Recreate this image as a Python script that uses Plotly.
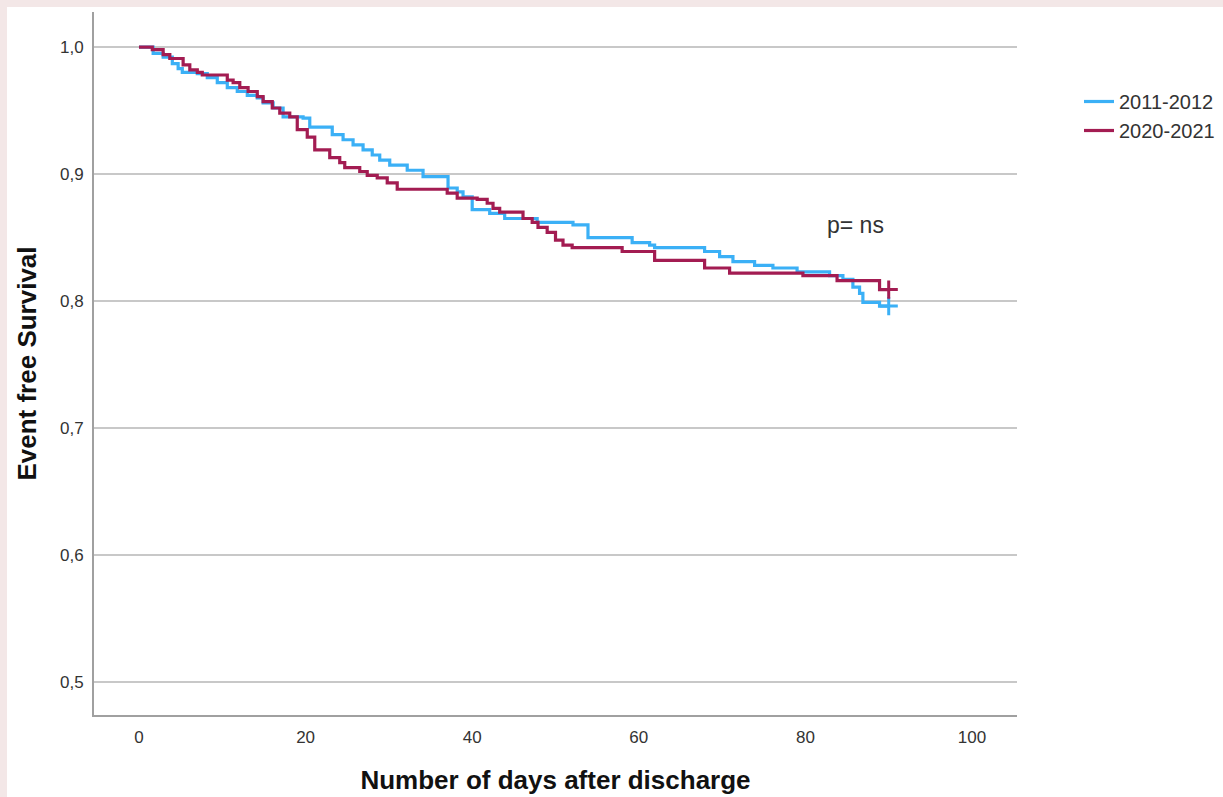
import plotly.graph_objects as go

# ---- data ----
days_2011 = [0.0, 1.7, 2.9, 4.0, 4.7, 5.2, 7.0, 8.2, 9.4, 10.6, 11.8, 13.0, 14.2, 14.9, 16.1, 17.3,
             19.7, 20.5, 23.2, 24.5, 25.7, 26.9, 28.0, 28.9, 30.1, 32.2, 34.1, 37.1, 38.2, 38.9,
             40.0, 42.1, 43.9, 47.8, 52.1, 53.9, 59.2, 61.3, 61.9, 67.9, 69.7, 71.3, 73.9, 76.1,
             79.0, 82.9, 84.5, 85.7, 86.5, 86.9, 88.9, 90.0]
surv_2011 = [1.000, 0.995, 0.992, 0.987, 0.983, 0.980, 0.979, 0.976, 0.972, 0.968, 0.965, 0.962,
             0.960, 0.956, 0.952, 0.945, 0.944, 0.937, 0.931, 0.927, 0.923, 0.919, 0.915, 0.911,
             0.907, 0.903, 0.898, 0.889, 0.886, 0.882, 0.872, 0.869, 0.865, 0.862, 0.860, 0.850,
             0.846, 0.844, 0.842, 0.839, 0.835, 0.831, 0.828, 0.826, 0.823, 0.820, 0.817, 0.811,
             0.806, 0.799, 0.796, 0.796]

days_2020 = [0.0, 1.6, 2.9, 3.7, 5.3, 6.1, 7.0, 7.6, 10.6, 11.3, 12.1, 13.1, 14.2, 14.9, 16.0,
             16.9, 18.1, 19.0, 20.2, 21.1, 22.9, 24.1, 24.7, 26.5, 27.4, 28.6, 29.8, 31.0, 37.0,
             38.2, 40.6, 41.8, 42.5, 43.3, 46.1, 47.2, 47.9, 49.0, 50.0, 50.9, 52.0, 58.0, 61.9,
             67.9, 70.9, 79.7, 83.8, 88.9, 90.0]
surv_2020 = [1.000, 0.998, 0.994, 0.991, 0.986, 0.982, 0.980, 0.978, 0.974, 0.972, 0.968, 0.965,
             0.961, 0.957, 0.952, 0.948, 0.945, 0.935, 0.929, 0.919, 0.913, 0.909, 0.905, 0.902,
             0.899, 0.897, 0.893, 0.888, 0.885, 0.881, 0.880, 0.877, 0.873, 0.870, 0.865, 0.862,
             0.858, 0.854, 0.848, 0.844, 0.842, 0.839, 0.832, 0.826, 0.822, 0.820, 0.816, 0.809,
             0.809]

censor_day = [90.0]
censor_2011 = [0.796]
censor_2020 = [0.809]

x_ticks = [0, 20, 40, 60, 80, 100]
y_ticks = [0.5, 0.6, 0.7, 0.8, 0.9, 1.0]
y_tick_labels = ["0,5", "0,6", "0,7", "0,8", "0,9", "1,0"]

series_names = ["2011-2012", "2020-2021"]
colors = ["#3bb0f6", "#a31c52"]

annotation_text = "p= ns"
annotation_pos = (86.0, 0.860)

# ---- figure ----
FONT = "Liberation Sans, Arial, sans-serif"
fig = go.Figure()

for name, d, s, cs, col in [
    (series_names[0], days_2011, surv_2011, censor_2011, colors[0]),
    (series_names[1], days_2020, surv_2020, censor_2020, colors[1]),
]:
    fig.add_trace(go.Scatter(
        x=d, y=s, mode="lines", name=name,
        line=dict(color=col, width=3.2, shape="hv"),
        legendgroup=name,
    ))
    fig.add_trace(go.Scatter(
        x=censor_day, y=cs, mode="markers", showlegend=False, legendgroup=name,
        marker=dict(symbol="cross-thin", size=13, line=dict(color=col, width=3)),
        hoverinfo="skip",
    ))

fig.add_annotation(
    x=annotation_pos[0], y=annotation_pos[1], text=annotation_text,
    showarrow=False, font=dict(family=FONT, size=23, color="#333333"),
)

# white panel over the pinkish page background
L, R, T, B = 94, 1017, 12, 715
W, H = 1223, 797
pw, ph = R - L, B - T
fig.add_shape(
    type="rect", xref="paper", yref="paper", layer="below",
    x0=(7 - L) / pw, x1=(W + 5 - L) / pw,
    y0=(B - (H + 5)) / ph, y1=(B - 7) / ph,
    fillcolor="white", line=dict(width=0),
)

fig.update_layout(
    width=W, height=H, autosize=False,
    margin=dict(l=L, r=W - R, t=T, b=H - B, autoexpand=False),
    paper_bgcolor="#f3e7e7",
    plot_bgcolor="white",
    font=dict(family=FONT, size=17, color="#333333"),
    showlegend=True,
    legend=dict(
        xref="container", yref="container",
        x=1079 / W, y=1 - 82 / H, xanchor="left", yanchor="top",
        font=dict(family=FONT, size=20, color="#333333"),
        bgcolor="rgba(0,0,0,0)", itemwidth=30, tracegroupgap=0,
    ),
)

fig.update_xaxes(
    range=[-5.4, 105.4], automargin=False,
    tickvals=x_ticks, ticktext=[str(v) for v in x_ticks],
    showgrid=False, zeroline=False,
    showline=True, linecolor="#a0a0a0", linewidth=2,
    ticks="", ticklabelstandoff=6,
    tickfont=dict(family=FONT, size=17, color="#333333"),
    title=dict(text="<b>Number of days after discharge</b>", standoff=24,
               font=dict(family=FONT, size=26, color="#111111")),
)
fig.update_yaxes(
    range=[0.4740, 1.0276], automargin=False,
    tickvals=y_ticks, ticktext=y_tick_labels,
    showgrid=True, gridcolor="#c8c8c8", gridwidth=2,
    zeroline=False,
    showline=True, linecolor="#a0a0a0", linewidth=2,
    ticks="", ticklabelstandoff=5,
    tickfont=dict(family=FONT, size=17, color="#333333"),
    title=dict(text="<b>Event free Survival</b>", standoff=16,
               font=dict(family=FONT, size=26, color="#111111")),
)

fig.write_html(
    "out.html",
    config={"displayModeBar": False, "responsive": False},
    post_script="document.body.style.margin='0';document.body.style.padding='0';"
                "document.body.style.overflow='hidden';",
)
